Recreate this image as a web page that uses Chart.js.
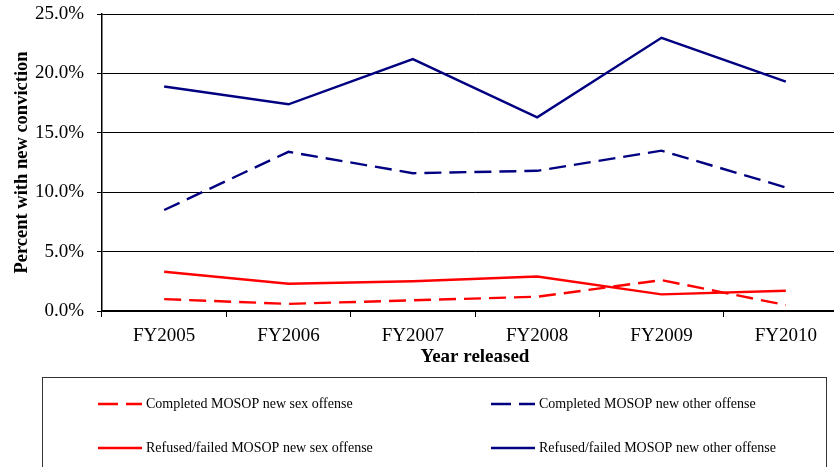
<!DOCTYPE html>
<html>
<head>
<meta charset="utf-8">
<script src="https://cdn.jsdelivr.net/npm/chart.js@4"></script>
<style>
  html, body { margin: 0; padding: 0; background: #fff; overflow: hidden; }
  #wrap { position: absolute; left: 0; top: 0; width: 860px; height: 467px; }
</style>
</head>
<body>
<div id="wrap"><canvas id="chart"></canvas></div>
<script>
// Recidivism by release year
const years = ["FY2005", "FY2006", "FY2007", "FY2008", "FY2009", "FY2010"];
const completedSex = [1.0, 0.6, 0.9, 1.2, 2.6, 0.5];
const completedOther = [8.5, 13.4, 11.6, 11.8, 13.5, 10.4];
const refusedSex = [3.3, 2.3, 2.5, 2.9, 1.4, 1.7];
const refusedOther = [18.9, 17.4, 21.2, 16.3, 23.0, 19.3];
const yTicks = [0, 5, 10, 15, 20, 25];

const NAVY = "#000080";
const RED = "#ff0000";
const SERIF = "'Liberation Serif', 'Times New Roman', serif";

function serie(label, data, color, dashed) {
  return {
    label: label,
    data: data,
    borderColor: color,
    backgroundColor: color,
    borderWidth: 2.4,
    borderDash: dashed ? [17, 8] : [],
    pointRadius: 0,
    tension: 0,
    fill: false
  };
}

// legend in a framed box under the axes, two columns
const legendBox = {
  id: "legendBox",
  afterDraw(chart) {
    const ctx = chart.ctx;
    ctx.save();
    ctx.strokeStyle = "#333";
    ctx.lineWidth = 1;
    ctx.strokeRect(42.5, 377.5, 784, 120);

    const cols = [98, 491];
    const rows = [404, 448];
    chart.data.datasets.forEach((ds, i) => {
      const x = cols[i % 2];
      const y = rows[Math.floor(i / 2)];
      ctx.strokeStyle = ds.borderColor;
      ctx.lineWidth = 2.5;
      ctx.setLineDash(ds.borderDash.length ? [20, 8] : []);
      ctx.beginPath();
      ctx.moveTo(x, y);
      ctx.lineTo(x + 44, y);
      ctx.stroke();
      ctx.setLineDash([]);
      ctx.fillStyle = "#000";
      ctx.font = "14px " + SERIF;
      ctx.textBaseline = "middle";
      ctx.fillText(ds.label, x + 48, y);
    });
    ctx.restore();
  }
};

const chart = new Chart(document.getElementById("chart"), {
  type: "line",
  data: {
    labels: years,
    datasets: [
      serie("Completed MOSOP new sex offense", completedSex, RED, true),
      serie("Completed MOSOP new other offense", completedOther, NAVY, true),
      serie("Refused/failed MOSOP new sex offense", refusedSex, RED, false),
      serie("Refused/failed MOSOP new other offense", refusedOther, NAVY, false)
    ]
  },
  options: {
    responsive: true,
    maintainAspectRatio: false,
    animation: false,
    layout: { padding: { top: 14, right: 12, bottom: 97, left: 0 } },
    plugins: {
      legend: { display: false },
      tooltip: { enabled: false }
    },
    scales: {
      x: {
        offset: true,
        afterFit(scale) { scale.height = 59; },
        grid: { drawOnChartArea: false, offset: true, color: "#000", tickLength: 6, tickColor: "#000" },
        border: { color: "#000", width: 1.5 },
        ticks: { color: "#000", padding: 8, font: { family: SERIF, size: 19 } },
        title: {
          display: true,
          text: "Year released",
          color: "#000",
          padding: { top: 0, bottom: 2 },
          font: { family: SERIF, size: 19, weight: "bold" }
        }
      },
      y: {
        min: 0,
        max: 25,
        afterFit(scale) {
          scale.width = 102;
          scale.paddingTop = 0;
          scale.paddingBottom = 0;
        },
        afterBuildTicks(scale) { scale.ticks = yTicks.map(v => ({ value: v })); },
        grid: { color: "#000", lineWidth: 1, tickLength: 5, tickColor: "#000" },
        border: { color: "#000", width: 1.5 },
        ticks: {
          color: "#000",
          padding: 13,
          font: { family: SERIF, size: 19 },
          callback: v => v.toFixed(1) + "%"
        },
        title: {
          display: true,
          text: "Percent with new conviction",
          color: "#000",
          padding: { top: 11, bottom: 0 },
          font: { family: SERIF, size: 18.5, weight: "bold" }
        }
      }
    }
  },
  plugins: [legendBox]
});
</script>
</body>
</html>
